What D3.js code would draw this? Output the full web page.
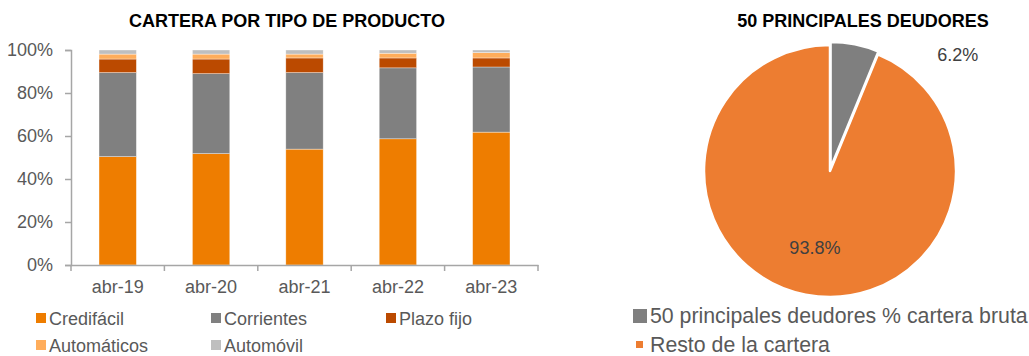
<!DOCTYPE html>
<html>
<head>
<meta charset="utf-8">
<script src="https://cdn.jsdelivr.net/npm/d3@7"></script>
<style>
  body { margin: 0; background: #fff; }
  svg { font-family: Arial, "Liberation Sans", sans-serif; }
</style>
</head>
<body>
<svg width="1029" height="356"></svg>
<script>
// bar chart data (share of portfolio)
const periods = ["abr-19", "abr-20", "abr-21", "abr-22", "abr-23"];
const products = ["Credifácil", "Corrientes", "Plazo fijo", "Automáticos", "Automóvil"];
const credifacil = [0.504, 0.518, 0.539, 0.587, 0.618];
const corrientes = [0.391, 0.372, 0.356, 0.330, 0.303];
const plazoFijo = [0.063, 0.068, 0.068, 0.046, 0.042];
const automaticos = [0.023, 0.023, 0.018, 0.022, 0.025];
const automovil = [0.019, 0.019, 0.019, 0.015, 0.012];
const yTicks = [0, 0.2, 0.4, 0.6, 0.8, 1];

// pie data
const pieLabels = ["50 principales deudores % cartera bruta", "Resto de la cartera"];
const pieValues = [6.2, 93.8];

const barColors = ["#EE7D00", "#808080", "#BB4A00", "#FFAD5B", "#BFBFBF"];
const pieColors = ["#7F7F7F", "#ED7D31"];

const svg = d3.select("svg");

// ---- stacked bars ----
const rows = periods.map((p, i) => ({
  period: p,
  "Credifácil": credifacil[i],
  "Corrientes": corrientes[i],
  "Plazo fijo": plazoFijo[i],
  "Automáticos": automaticos[i],
  "Automóvil": automovil[i],
}));
const series = d3.stack().keys(products)(rows);

const x = d3.scaleBand().domain(periods).range([71, 538])
  .paddingInner(0.6).paddingOuter(0.3);
const y = d3.scaleLinear().domain([0, 1]).range([265, 50]);

svg.append("text")
  .attr("x", 287).attr("y", 27)
  .attr("text-anchor", "middle")
  .style("font-weight", "bold").style("font-size", "18px").style("fill", "#000")
  .text("CARTERA POR TIPO DE PRODUCTO");

svg.append("g")
  .selectAll("g")
  .data(series)
  .join("g")
  .attr("fill", (d, i) => barColors[i])
  .selectAll("rect")
  .data(d => d)
  .join("rect")
  .attr("x", d => x(d.data.period))
  .attr("width", x.bandwidth())
  .attr("y", d => y(d[1]))
  .attr("height", d => y(d[0]) - y(d[1]))
  .attr("stroke", "#fff")
  .attr("stroke-opacity", 0.6)
  .attr("stroke-width", 0.6);

// y axis
const yAxis = svg.append("g")
  .attr("transform", "translate(71,0)")
  .call(d3.axisLeft(y).tickValues(yTicks).tickFormat(d3.format(".0%"))
    .tickSize(6).tickPadding(12));
yAxis.select(".domain").attr("stroke", "#A6A6A6").attr("stroke-width", 1.5);
yAxis.selectAll(".tick line").attr("stroke", "#A6A6A6").attr("stroke-width", 1.5);
yAxis.selectAll("text").style("font-size", "18px").style("fill", "#595959")
  .style("font-family", "Arial, 'Liberation Sans', sans-serif");

// x axis, ticks on category boundaries
const xAxis = svg.append("g")
  .attr("transform", "translate(0,265)")
  .call(d3.axisBottom(x).tickSize(0).tickPadding(15));
xAxis.select(".domain").attr("stroke", "#A6A6A6").attr("stroke-width", 1.5);
xAxis.selectAll("text").style("font-size", "18px").style("fill", "#595959")
  .style("font-family", "Arial, 'Liberation Sans', sans-serif");
const bounds = d3.range(periods.length + 1).map(i => x.range()[0] + i * x.step());
xAxis.selectAll(".bound")
  .data(bounds)
  .join("line")
  .attr("class", "bound")
  .attr("x1", d => d).attr("x2", d => d)
  .attr("y1", 0).attr("y2", 6)
  .attr("stroke", "#A6A6A6").attr("stroke-width", 1.5);

// legend
const legCols = [36, 211, 386];
const legend = svg.append("g")
  .selectAll("g")
  .data(products)
  .join("g")
  .attr("transform", (d, i) => `translate(${legCols[i % 3]},${313 + Math.floor(i / 3) * 27})`);
legend.append("rect")
  .attr("width", 10).attr("height", 10)
  .attr("fill", (d, i) => barColors[i]);
legend.append("text")
  .attr("x", 13).attr("y", 12)
  .style("font-size", "18px").style("fill", "#595959")
  .text(d => d);

// ---- pie ----
const cx = 830, cy = 171, r = 126;

svg.append("text")
  .attr("x", 863).attr("y", 27)
  .attr("text-anchor", "middle")
  .style("font-weight", "bold").style("font-size", "18px").style("fill", "#000")
  .text("50 PRINCIPALES DEUDORES");

const arcs = d3.pie().sort(null).value(d => d)(pieValues);
const arc = d3.arc().innerRadius(0).outerRadius(r);

const pieG = svg.append("g").attr("transform", `translate(${cx},${cy})`);
pieG.selectAll("path")
  .data(arcs)
  .join("path")
  .attr("d", arc)
  .attr("fill", (d, i) => pieColors[i])
  .attr("stroke", "#fff")
  .attr("stroke-width", 2.5)
  .attr("stroke-linejoin", "round")
  .attr("transform", (d, i) => {
    if (i !== 0) return null;
    const a = (d.startAngle + d.endAngle) / 2;
    return `translate(${Math.sin(a) * 3},${-Math.cos(a) * 3})`;
  })
  .each(function (d, i) { if (i === 0) this.parentNode.appendChild(this); });

const fmt = v => v.toFixed(1) + "%";
// outside label for small slice (pushed right), inside for large slice
const outerArc = d3.arc().innerRadius(r + 28).outerRadius(r + 28);
const innerArc = d3.arc().innerRadius(r * 0.62).outerRadius(r * 0.62);
pieG.selectAll(".plabel")
  .data(arcs)
  .join("text")
  .attr("class", "plabel")
  .attr("transform", (d, i) => {
    const c = i === 0 ? outerArc.centroid(d) : innerArc.centroid(d);
    return i === 0 ? `translate(${c[0] + 98},${c[1] + 35})` : `translate(${c[0]},${c[1]})`;
  })
  .attr("text-anchor", "middle")
  .attr("dy", "0.35em")
  .style("font-size", "18px").style("fill", "#404040")
  .text(d => fmt(d.value));

const pieLeg = svg.append("g")
  .selectAll("g")
  .data(pieLabels)
  .join("g")
  .attr("transform", (d, i) => `translate(633,${i === 0 ? 309 : 337})`);
pieLeg.append("rect")
  .attr("x", (d, i) => i === 0 ? 0 : 3)
  .attr("y", (d, i) => i === 0 ? 0 : 4)
  .attr("width", (d, i) => i === 0 ? 14 : 7)
  .attr("height", (d, i) => i === 0 ? 14 : 7)
  .attr("fill", (d, i) => pieColors[i]);
pieLeg.append("text")
  .attr("x", 17).attr("y", (d, i) => i === 0 ? 14 : 15)
  .style("font-size", "21.3px").style("fill", "#595959")
  .text(d => d);
</script>
</body>
</html>
